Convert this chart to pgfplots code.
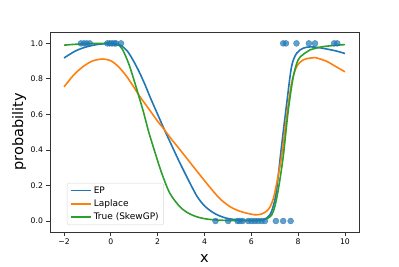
\documentclass[border=0pt]{standalone}
\usepackage{pgfplots}
\pgfplotsset{compat=1.18}
\usepackage{fontspec}
\setmainfont{DejaVu Sans}
\definecolor{mblue}{HTML}{1F77B4}
\definecolor{morange}{HTML}{FF7F0E}
\definecolor{mgreen}{HTML}{2CA02C}
\begin{document}
\begin{tikzpicture}
\path[use as bounding box] (-50pt,-34pt) rectangle (349pt,232pt);
\begin{axis}[at={(0,0)}, anchor=south west, scale only axis, width=309pt, height=200pt,
  xmin=-2.6, xmax=10.6, ymin=-0.062, ymax=1.064,
  xtick={-2,0,2,4,6,8,10}, xticklabels={−2,0,2,4,6,8,10},
  ytick={0,0.2,0.4,0.6,0.8,1.0},
  yticklabel style={/pgf/number format/.cd, fixed, fixed zerofill, precision=1},
  /pgf/number format/assume math mode=true,
  tick label style={font=\fontsize{7.7}{9}\selectfont},
  tick pos=left, tick align=outside, major tick length=3.5pt,
  axis line style={line width=0.8pt, black!80},
  every tick/.style={black!80, line width=0.8pt},
  xlabel={x}, ylabel={probability},
  label style={font=\fontsize{14.5}{16}\selectfont},
  xlabel style={at={(axis description cs:0.5,-0.135)}, anchor=center},
  ylabel style={at={(axis description cs:-0.1,0.5)}, anchor=center},
  legend style={at={(rel axis cs:0.055,0.035)}, anchor=south west,
    font=\fontsize{9}{10}\selectfont, draw=black!15, rounded corners=2pt,
    fill=white, fill opacity=0.8, text opacity=1, row sep=1pt,
    inner xsep=3pt, inner ysep=1.5pt},
  legend cell align=left,
  legend image code/.code={\draw[#1] (0pt,0pt) -- (20pt,0pt);},
]
\addplot[mblue, line width=1.6pt, smooth] coordinates {
(-2,0.918) (-1.5,0.958) (-1,0.982) (-0.5,0.995) (0,0.998) (0.4,0.99) (0.7,0.957)
(0.95,0.905) (1.2,0.842) (1.45,0.77) (1.7,0.69) (2.0,0.6) (2.3,0.51) (2.6,0.425)
(2.9,0.34) (3.2,0.26) (3.45,0.195) (3.7,0.135) (4.0,0.085) (4.37,0.047) (4.7,0.026)
(5.0,0.014) (5.5,0.005) (6.0,0.003) (6.5,0.006) (6.79,0.034) (6.95,0.09) (7.08,0.175) (7.29,0.42)
(7.51,0.66) (7.72,0.87) (7.94,0.945) (8.22,0.973) (8.5,0.98) (8.8,0.978) (9.15,0.97)
(9.6,0.958) (10,0.943)};
\addlegendentry{EP}
\addplot[morange, line width=1.6pt, smooth] coordinates {
(-2,0.755) (-1.6,0.82) (-1.2,0.868) (-0.8,0.9) (-0.35,0.912) (0,0.902) (0.3,0.872)
(0.67,0.815) (1.0,0.75) (1.24,0.70) (1.6,0.635) (1.95,0.57) (2.25,0.52) (2.59,0.46)
(2.9,0.41) (3.23,0.355) (3.5,0.31) (3.8,0.26) (4.23,0.19) (4.66,0.125) (5.1,0.08)
(5.51,0.055) (6.0,0.038) (6.23,0.035) (6.45,0.04) (6.65,0.055) (6.8,0.08) (6.95,0.13)
(7.08,0.21) (7.29,0.36) (7.51,0.59) (7.72,0.776) (7.94,0.87) (8.22,0.907)
(8.5,0.917) (8.72,0.92) (9.2,0.9) (9.6,0.87) (10,0.84)};
\addlegendentry{Laplace}
\addplot[mgreen, line width=1.6pt, smooth] coordinates {
(-2,0.99) (-1.5,0.995) (-1,0.998) (-0.5,1.0) (0,1.0) (0.3,0.993) (0.5,0.965)
(0.75,0.89) (0.95,0.81) (1.2,0.70) (1.4,0.61) (1.62,0.50) (1.9,0.38) (2.17,0.27)
(2.52,0.156) (2.95,0.08) (3.3,0.045) (3.66,0.024) (4.0,0.013) (4.37,0.007) (5,0.003)
(6,0.003) (6.5,0.008) (6.7,0.015) (6.87,0.034) (7.0,0.08) (7.15,0.175) (7.36,0.36)
(7.58,0.625) (7.79,0.81) (8.0,0.907) (8.29,0.945) (8.5,0.963) (9,0.98) (9.5,0.988)
(10,0.993)};
\addlegendentry{True (SkewGP)}
\addplot[only marks, mark=*, mark size=3pt, forget plot,
  mark options={fill=mblue, draw=mblue, fill opacity=0.7, draw opacity=0.7}] coordinates {
(-1.28,1) (-1.15,1) (-1.03,1) (-0.9,1) (-0.15,1) (-0.05,1) (0.05,1) (0.15,1) (0.22,1) (0.43,1)
(7.36,1) (7.48,1) (7.93,1) (8.46,1) (8.72,1) (9.54,1) (9.67,1)
(4.47,0) (5.01,0) (5.41,0) (5.51,0) (5.63,0) (5.87,0) (6.01,0) (6.15,0) (6.29,0)
(6.44,0) (6.58,0) (7.05,0) (7.36,0) (7.68,0)};
\end{axis}
\end{tikzpicture}
\end{document}
